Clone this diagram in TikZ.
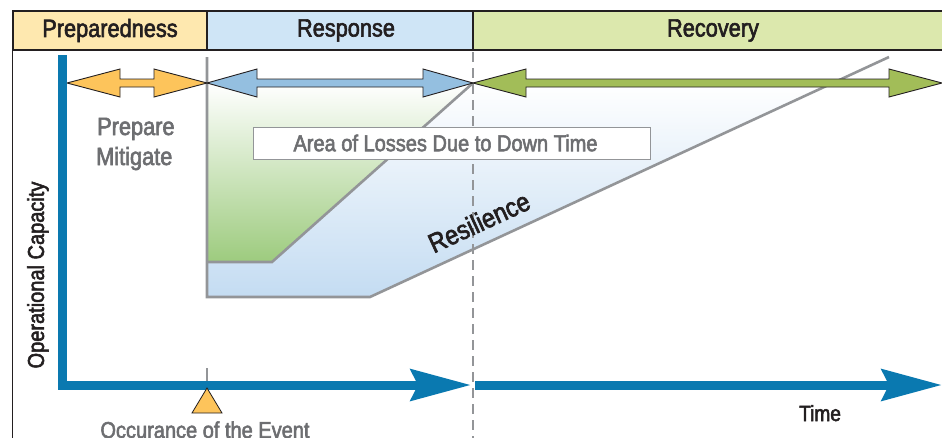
\documentclass[tikz,border=0pt]{standalone}
\usepackage{fontspec}
\setmainfont[FakeStretch=0.87,FakeBold=2.4]{Liberation Sans}
\usetikzlibrary{arrows.meta}
\definecolor{hdrorange}{HTML}{FEE8AF}
\definecolor{hdrblue}{HTML}{CFE5F6}
\definecolor{hdrgreen}{HTML}{DCE8AD}
\definecolor{arrorange}{HTML}{FDC45B}
\definecolor{arrblue}{HTML}{94BFE0}
\definecolor{arrgreen}{HTML}{A2BD58}
\definecolor{axisblue}{HTML}{0A79B0}
\definecolor{lossgreen}{HTML}{9DCB7E}
\definecolor{lossblue}{HTML}{C4DCF2}
\definecolor{linegray}{HTML}{939598}
\definecolor{labelgray}{HTML}{6D6E71}
\definecolor{inkblack}{HTML}{231F20}

\begin{document}
\begin{tikzpicture}[x=1pt,y=-1pt,
  phase/.style={draw=inkblack,line width=1.2pt,minimum height=39,inner sep=0pt,
    text=inkblack,font=\fontsize{25}{29}\selectfont},
  phasearrow/.style={draw=inkblack,line width=0.9pt,line join=miter},
  edgeline/.style={draw=linegray,line width=2.6pt},
  timeaxis/.style={draw=axisblue,line width=9pt,-{Stealth[length=60pt,width=31pt,inset=7pt]}},
  graylabel/.style={text=labelgray,font=\fontsize{23}{27}\selectfont,inner sep=0pt},
  blacklabel/.style={text=inkblack,font=\fontsize{22}{26}\selectfont,inner sep=0pt}]

\useasboundingbox (0,0) rectangle (942,437);

% phase header
\node[phase,fill=hdrorange,minimum width=194] (prep) at (110,30.5) {Preparedness};
\node[phase,fill=hdrblue,minimum width=266] (resp) at (340,30.5) {};
\node[phase,fill=hdrgreen,minimum width=480] (reco) at (713,30.5) {Recovery};
\node[phase,draw=none] (resptext) at (346,30.5) {Response};
\draw[inkblack,line width=1.2pt] (prep.south west) -- (prep.south west |- 0,440);

% losses
\coordinate (evtop) at (207,57);
\coordinate (tl) at (207,83);
\coordinate (mid) at (473,83);
\coordinate (rt) at (833,83);
\coordinate (bl) at (207,297);
\coordinate (bk) at (370,297);
\coordinate (rend) at (889,57);
\coordinate (gl) at (207,262);
\coordinate (gk) at (272,262);
\fill[top color=white,bottom color=lossblue] (tl) -- (rt) -- (bk) -- (bl) -- cycle;
\fill[top color=white,bottom color=lossgreen] (tl) -- (mid) -- (gk) -- (gl) -- cycle;
\draw[edgeline] (evtop) -- (bl) -- (bk) -- (rend);
\draw[edgeline] (gl) -- (gk) -- (mid);

% event tick and divider
\coordinate (evtick) at (207,368);
\coordinate (evtip) at (207,388);
\draw[linegray,line width=1.2pt] (evtick) -- (evtip);
\coordinate (dtop) at (473,52);
\coordinate (dbot) at (473,440);
\draw[linegray,line width=1.4pt,dash pattern=on 10pt off 6pt] (dtop) -- (dbot);

% phase arrows
\coordinate (ax) at (67,83);
\coordinate (rx) at (942,83);
\draw[phasearrow,fill=arrorange] (ax) -- ++(53,-14) -- ++(0,10) -- ++(34,0) -- ++(0,-10) -- (tl)
  -- ++(-53,14) -- ++(0,-10) -- ++(-34,0) -- ++(0,10) -- cycle;
\draw[phasearrow,fill=arrblue] (tl) -- ++(50,-14) -- ++(0,10) -- ++(166,0) -- ++(0,-10) -- (mid)
  -- ++(-50,14) -- ++(0,-10) -- ++(-166,0) -- ++(0,10) -- cycle;
\draw[phasearrow,fill=arrgreen] (mid) -- ++(53,-14) -- ++(0,10) -- ++(363,0) -- ++(0,-10) -- (rx)
  -- ++(-53,14) -- ++(0,-10) -- ++(-363,0) -- ++(0,10) -- cycle;

% label box
\node[draw=linegray,line width=1pt,fill=white,minimum width=397,minimum height=32] (loss)
  at (451.5,143) {};
\node[graylabel] (losstext) at (445.5,143) {Area of Losses Due to Down Time};

% axes
\coordinate (ytop) at (62,55);
\coordinate (org) at (62,385);
\coordinate (xmid) at (471,385);
\coordinate (xmid2) at (475,385);
\coordinate (xend) at (942,385);
\draw[timeaxis,line join=miter] (ytop) -- (org) -- (xmid);
\draw[timeaxis] (xmid2) -- (xend);

% event marker
\draw[fill=arrorange,draw=inkblack,line width=0.8pt] (evtip) -- ++(15,25) -- ++(-30,0) -- cycle;

% labels
\node[graylabel,font=\fontsize{25}{30}\selectfont,anchor=base west] (prepare) at (97,135) {Prepare};
\node[graylabel,font=\fontsize{25}{30}\selectfont,anchor=base west] (mitigate) at (96,165) {Mitigate};
\node[blacklabel,font=\fontsize{23}{27}\selectfont,rotate=90] (opcap) at (38,275) {Operational Capacity};
\node[blacklabel,font=\fontsize{27}{31}\selectfont,rotate=24.8] (resil) at (479,222) {Resilience};
\node[blacklabel,anchor=base] (time) at (820,421) {Time};
\node[graylabel,anchor=base] (event) at (205,438) {Occurance of the Event};
\end{tikzpicture}
\end{document}
